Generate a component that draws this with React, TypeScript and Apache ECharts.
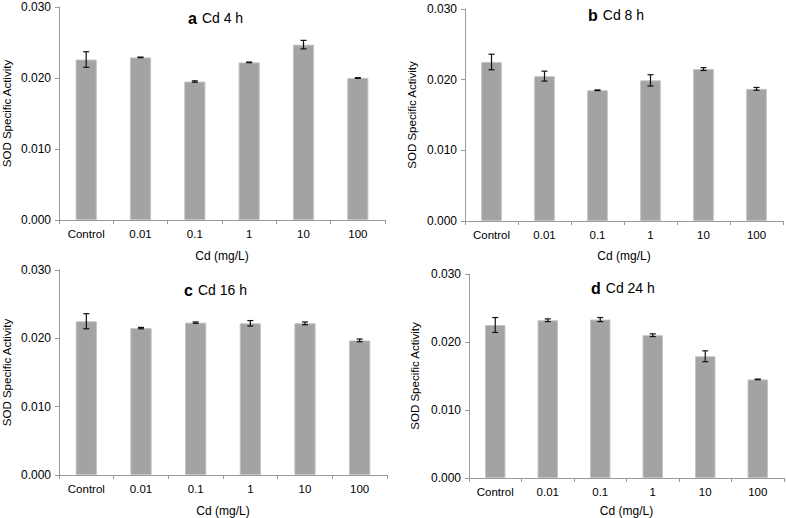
import React, { useEffect, useRef } from "react";
import * as echarts from "echarts";

const categories = ["Control", "0.01", "0.1", "1", "10", "100"];

const meansA = [0.0226, 0.0229, 0.0195, 0.0222, 0.0247, 0.02];
const errA = [0.0011, 0.00005, 0.0001, 0.00005, 0.0006, 0.00005];

const meansB = [0.0225, 0.0205, 0.0185, 0.0199, 0.0215, 0.0187];
const errB = [0.0011, 0.0007, 0.00005, 0.0008, 0.0002, 0.0002];

const meansC = [0.0225, 0.0215, 0.0223, 0.0222, 0.0222, 0.0197];
const errC = [0.0011, 0.0001, 0.0001, 0.0004, 0.0002, 0.0002];

const meansD = [0.0225, 0.0232, 0.0233, 0.021, 0.0179, 0.0145];
const errD = [0.0011, 0.0002, 0.0003, 0.0002, 0.0008, 0.00005];

const panelLetters = ["a", "b", "c", "d"];
const panelTimes = ["Cd 4 h", "Cd 8 h", "Cd 16 h", "Cd 24 h"];
const yTicks = [0, 0.01, 0.02, 0.03];

export default function App() {
  const ref = useRef<HTMLDivElement>(null);

  useEffect(() => {
    if (!ref.current) return;
    const chart = echarts.init(ref.current, null, { renderer: "svg" });

    const means = [meansA, meansB, meansC, meansD];
    const errs = [errA, errB, errC, errD];

    const grids = [
      { left: 53, top: 7, width: 332, height: 213 },
      { left: 465, top: 9, width: 318, height: 212 },
      { left: 52, top: 270, width: 335, height: 210 },
      { left: 469, top: 274, width: 315, height: 211 },
    ];
    const xNameGaps = [30, 29, 30, 27];
    const yNameGaps = [46, 47, 46, 48];
    const titlePos = [
      { left: 188, top: 9 },
      { left: 588, top: 6 },
      { left: 184, top: 281 },
      { left: 591, top: 279 },
    ];

    const textColor = "#000000";
    const axisColor = "#9a9a9a";
    const font = "'Liberation Sans', Arial, sans-serif";

    const option: any = {
      animation: false,
      backgroundColor: "#ffffff",
      textStyle: { fontFamily: font },
      title: panelLetters.map((l, i) => ({
        text: `{b|${l}} {n|${panelTimes[i]}}`,
        left: titlePos[i].left,
        top: titlePos[i].top,
        padding: 0,
        textStyle: {
          fontWeight: "normal",
          rich: {
            b: { fontFamily: font, fontWeight: "bold", fontSize: 16, color: textColor },
            n: { fontFamily: font, fontWeight: "normal", fontSize: 14, color: textColor },
          },
        },
      })),
      grid: grids.map((g) => ({ ...g, containLabel: false })),
      xAxis: grids.map((_, i) => ({
        type: "category",
        gridIndex: i,
        data: categories,
        name: "Cd (mg/L)",
        nameLocation: "middle",
        nameGap: xNameGaps[i],
        nameTextStyle: { fontSize: 12, color: textColor, fontFamily: font },
        axisLine: { show: true, lineStyle: { color: axisColor, width: 1 } },
        axisTick: { show: true, length: 4, lineStyle: { color: axisColor } },
        axisLabel: { fontSize: 11.5, color: textColor, margin: 8, fontFamily: font, interval: 0 },
        splitLine: { show: false },
      })),
      yAxis: grids.map((_, i) => ({
        type: "value",
        gridIndex: i,
        min: yTicks[0],
        max: yTicks[yTicks.length - 1],
        interval: 0.01,
        name: "SOD Specific Activity",
        nameLocation: "middle",
        nameGap: yNameGaps[i],
        nameRotate: 90,
        nameTextStyle: { fontSize: 11.5, color: textColor, fontFamily: font },
        axisLine: { show: true, lineStyle: { color: axisColor, width: 1 } },
        axisTick: { show: true, length: 4, lineStyle: { color: axisColor } },
        axisLabel: {
          fontSize: 12,
          color: textColor,
          margin: 8,
          fontFamily: font,
          formatter: (v: number) => v.toFixed(3),
        },
        splitLine: { show: false },
      })),
      series: [
        ...means.map((m, i) => ({
          type: "bar",
          xAxisIndex: i,
          yAxisIndex: i,
          data: m,
          barWidth: "39%",
          itemStyle: { color: "#a3a3a3", borderColor: "#c4c4c4", borderWidth: 1 },
          z: 2,
        })),
        ...means.map((m, i) => ({
          type: "custom",
          xAxisIndex: i,
          yAxisIndex: i,
          z: 5,
          data: m.map((v, j) => [j, v - errs[i][j], v + errs[i][j]]),
          encode: { x: 0, y: [1, 2] },
          renderItem: (params: any, api: any) => {
            const x = api.value(0);
            const lo = api.coord([x, api.value(1)]);
            const hi = api.coord([x, api.value(2)]);
            const half = 3;
            const style = { stroke: "#111111", lineWidth: 1.2 };
            return {
              type: "group",
              children: [
                { type: "line", shape: { x1: lo[0], y1: lo[1], x2: hi[0], y2: hi[1] }, style },
                { type: "line", shape: { x1: lo[0] - half, y1: lo[1], x2: lo[0] + half, y2: lo[1] }, style },
                { type: "line", shape: { x1: hi[0] - half, y1: hi[1], x2: hi[0] + half, y2: hi[1] }, style },
              ],
            };
          },
        })),
      ],
    };

    chart.setOption(option);
    return () => chart.dispose();
  }, []);

  return (
    <div
      ref={ref}
      style={{ position: "fixed", left: 0, top: 0, width: 786, height: 518, background: "#fff" }}
    />
  );
}
